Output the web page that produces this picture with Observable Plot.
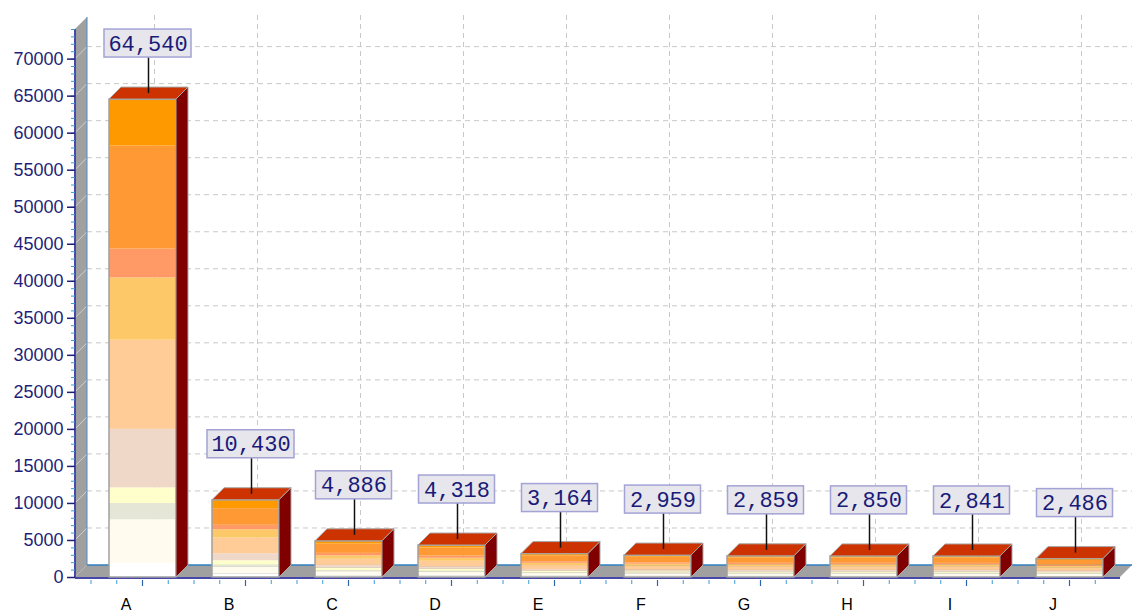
<!DOCTYPE html>
<html><head><meta charset="utf-8">
<script src="https://cdn.jsdelivr.net/npm/d3@7"></script>
<script src="https://cdn.jsdelivr.net/npm/@observablehq/plot@0.6"></script>
<style>html,body{margin:0;padding:0;background:#fff;} #chart svg{display:block;overflow:visible}</style>
</head><body><div id="chart"></div>
<script>
// ---- data ----
const categories = ["A", "B", "C", "D", "E", "F", "G", "H", "I", "J"];
const totals = [64540, 10430, 4886, 4318, 3164, 2959, 2859, 2850, 2841, 2486];
const yTicks = [0, 5000, 10000, 15000, 20000, 25000, 30000, 35000, 40000, 45000, 50000, 55000, 60000, 65000, 70000];
const seriesNames = ["S1", "S2", "S3", "S4", "S5", "S6", "S7", "S8", "S9", "S10"];
const seriesColors = ["#ffffff", "#fffcef", "#e5e6d6", "#ffffcc", "#f0d8c8", "#ffcb96", "#fdc868", "#ff9966", "#ff9933", "#ff9900"];
// stacked segment values (bottom to top), one array per series
const s1 = [1900, 470, 233, 208, 164, 154, 149, 145, 141, 126];
const s2 = [5900, 900, 558, 500, 370, 345, 335, 335, 335, 290];
const s3 = [2200, 270, 140, 120, 90, 85, 80, 80, 80, 70];
const s4 = [2100, 620, 326, 290, 210, 195, 190, 190, 190, 165];
const s5 = [7900, 950, 372, 330, 240, 225, 215, 215, 215, 190];
const s6 = [12050, 2120, 838, 740, 540, 505, 490, 490, 485, 425];
const s7 = [8400, 1120, 465, 410, 300, 280, 270, 270, 270, 235];
const s8 = [3900, 600, 326, 290, 210, 195, 190, 190, 190, 165];
const s9 = [13900, 2240, 1256, 1100, 800, 750, 725, 720, 720, 630];
const s10 = [6290, 1140, 372, 330, 240, 225, 215, 215, 215, 190];

const seriesValues = [s1, s2, s3, s4, s5, s6, s7, s8, s9, s10];
const rows = [];
seriesValues.forEach((vals, si) => vals.forEach((v, ci) => rows.push({cat: categories[ci], series: seriesNames[si], value: v})));
const totalsData = categories.map((c, i) => ({cat: c, total: totals[i]}));
const minorTicks = d3.range(0, 74001, 1000);

const W = 1132, H = 612, D = 12;
const fmt = d3.format(",");

function bwOf(scales) {
  const x = scales.x;
  return typeof x.bandwidth === "function" ? x.bandwidth() : scales.scales.x.bandwidth;
}
function stepOf(scales) {
  const x = scales.x;
  return typeof x.step === "function" ? x.step() : scales.scales.x.step;
}

function backdrop(index, scales, values, dims) {
  const {x, y} = scales;
  const bw = bwOf(scales), step = stepOf(scales);
  const L = dims.marginLeft, R = dims.width - dims.marginRight;
  const y0 = y(0), yMax = dims.marginTop;
  const g = d3.create("svg:g");
  // vertical grid on back wall
  g.selectAll(null).data(categories).join("line")
    .attr("x1", c => x(c) + bw / 2 + D).attr("x2", c => x(c) + bw / 2 + D)
    .attr("y1", yMax - D - 2).attr("y2", y0 - D)
    .attr("stroke", "#c8c8c8").attr("stroke-dasharray", "5,4");
  // horizontal grid on back wall
  g.selectAll(null).data(yTicks.filter(t => t > 0)).join("line")
    .attr("x1", L + D).attr("x2", R)
    .attr("y1", t => y(t) - D).attr("y2", t => y(t) - D)
    .attr("stroke", "#c8c8c8").attr("stroke-dasharray", "5,4");
  // side wall
  g.append("path").attr("d", `M${L},${y0}L${L},${yMax}L${L + D},${yMax - D}L${L + D},${y0 - D}Z`).attr("fill", "#a0a0a0");
  // floor
  g.append("path").attr("d", `M${L},${y0}L${L + D},${y0 - D}L${R},${y0 - D}L${R - D},${y0}Z`).attr("fill", "#a0a0a0");
  // grid on side wall
  g.selectAll(null).data(yTicks.filter(t => t > 0)).join("line")
    .attr("x1", L).attr("x2", L + D)
    .attr("y1", t => y(t)).attr("y2", t => y(t) - D)
    .attr("stroke", "#cfcfcf").attr("stroke-width", 1);
  // back edges
  g.append("line").attr("x1", L + D).attr("x2", R).attr("y1", y0 - D).attr("y2", y0 - D).attr("stroke", "#2f7fc0").attr("stroke-width", 1.5);
  g.append("line").attr("x1", L + D).attr("x2", L + D).attr("y1", y0 - D).attr("y2", yMax - D).attr("stroke", "#4a8ccc").attr("stroke-width", 1);
  // front edges
  g.append("line").attr("x1", L).attr("x2", R - D).attr("y1", y0 + 1).attr("y2", y0 + 1).attr("stroke", "#4848a8").attr("stroke-width", 2);
  g.append("line").attr("x1", L).attr("x2", L).attr("y1", y0 + 1).attr("y2", yMax).attr("stroke", "#4848a8").attr("stroke-width", 2);
  // x ticks under the floor
  categories.forEach(c => {
    const xc = x(c) + bw / 2;
    [-2, -1, 1].forEach(k => {
      const xx = xc + k * step / 4;
      g.append("line").attr("x1", xx).attr("x2", xx).attr("y1", y0 + 3).attr("y2", y0 + 7).attr("stroke", "#3d9ad6").attr("stroke-width", 1);
    });
    g.append("line").attr("x1", xc).attr("x2", xc).attr("y1", y0 + 3).attr("y2", y0 + 9).attr("stroke", "#2e64a8").attr("stroke-width", 1.2);
  });
  return g.node();
}

function bars3d(index, scales, values, dims) {
  const {x, y} = scales;
  const bw = bwOf(scales);
  const y0 = y(0);
  const g = d3.create("svg:g");
  categories.forEach((c, i) => {
    const x0 = x(c), x1 = x0 + bw, yt = y(totals[i]);
    g.append("path").attr("d", `M${x0},${yt}L${x0 + D},${yt - D}L${x1 + D},${yt - D}L${x1},${yt}Z`)
      .attr("fill", "#cc3300").attr("stroke", "#a8a8a8").attr("stroke-width", 1);
    g.append("path").attr("d", `M${x1},${yt}L${x1 + D},${yt - D}L${x1 + D},${y0 - D}L${x1},${y0}Z`)
      .attr("fill", "#800000").attr("stroke", "#a8a8a8").attr("stroke-width", 1);
  });
  return g.node();
}

function labelBoxes(index, scales, values, dims) {
  const {x, y} = scales;
  const bw = bwOf(scales);
  const g = d3.create("svg:g");
  categories.forEach((c, i) => {
    const xc = x(c) + bw / 2, yt = y(totals[i]);
    const txt = fmt(totals[i]);
    const w = 11 * txt.length + 21;
    g.append("line").attr("x1", xc + 6).attr("x2", xc + 6).attr("y1", yt - 42).attr("y2", yt - 6)
      .attr("stroke", "#111").attr("stroke-width", 1.5);
    g.append("rect").attr("x", xc + 5 - w / 2).attr("y", yt - 70).attr("width", w).attr("height", 28)
      .attr("fill", "#e6e6ec").attr("stroke", "#a3a3d6").attr("stroke-width", 1.5);
  });
  return g.node();
}

const chart = Plot.plot({
  width: W, height: H,
  marginLeft: 75, marginRight: 0, marginTop: 29, marginBottom: 35,
  style: {fontFamily: "Liberation Sans, Arial, sans-serif", background: "#fff", overflow: "visible"},
  x: {domain: categories, paddingInner: 0.351, paddingOuter: 0.29, align: 0.54, axis: null, label: null},
  y: {domain: [0, 74000], axis: null, label: null},
  color: {domain: seriesNames, range: seriesColors},
  marks: [
    backdrop,
    Plot.barY(rows, {x: "cat", y: "value", fill: "series"}),
    Plot.barY(totalsData, {x: "cat", y: "total", fill: "none", stroke: "#a0a0a0", strokeWidth: 1.5}),
    bars3d,
    labelBoxes,
    Plot.text(totalsData, {x: "cat", y: "total", text: d => fmt(d.total), dx: 5, dy: -56,
      fontFamily: "Liberation Mono, DejaVu Sans Mono, monospace", fontSize: 22, letterSpacing: "-2.2px", fill: "#1a1a78"}),
    Plot.axisY({ticks: minorTicks, tickSize: 4, tickFormat: () => "", stroke: "#3d9ad6", label: null}),
    Plot.axisY({ticks: yTicks, tickSize: 8, tickPadding: 4, tickFormat: d => String(d), fontSize: 18, fill: "#1f1f78", stroke: "#1f1f78", strokeWidth: 1.5, label: null}),
    Plot.axisX({tickSize: 0, tickPadding: 21, dx: -17, fontSize: 16, fill: "#000", label: null})
  ]
});
document.getElementById("chart").appendChild(chart);
</script>
</body></html>
